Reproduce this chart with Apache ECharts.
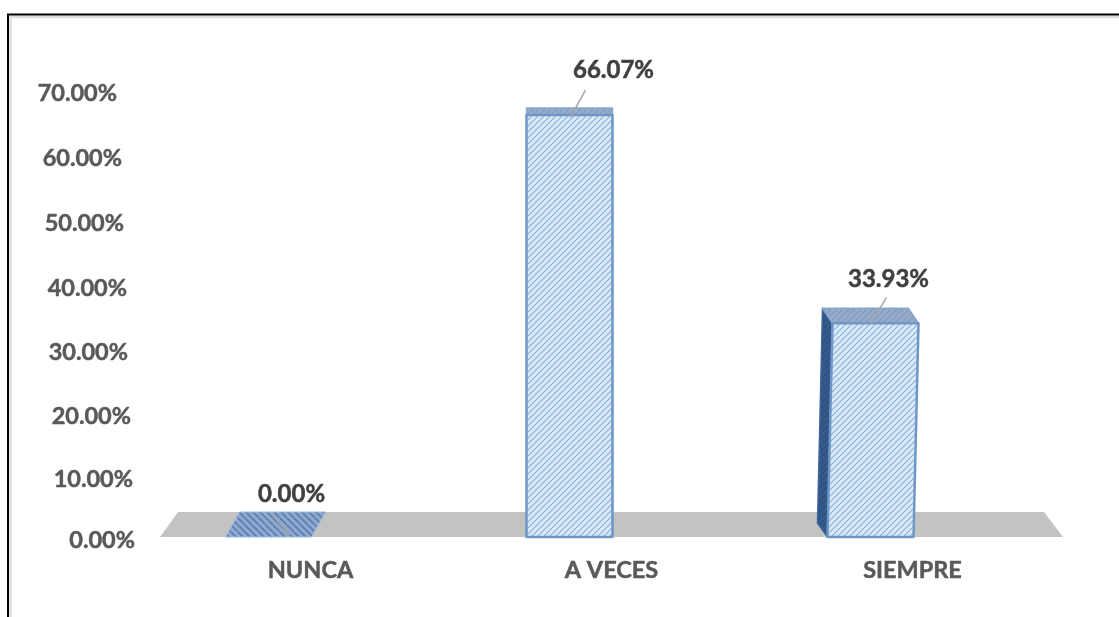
<!DOCTYPE html>
<html><head><meta charset="utf-8">
<style>html,body{margin:0;padding:0;background:#fff}#c{width:1119px;height:617px}</style>
<script src="https://cdn.jsdelivr.net/npm/echarts@6/dist/echarts.min.js"></script>
</head><body><div id="c"></div>
<script>
const categories = ['NUNCA', 'A VECES', 'SIEMPRE'];
const values = [0, 66.07, 33.93];
const valueLabels = ['0.00%', '66.07%', '33.93%'];
const tickValues = [0, 10, 20, 30, 40, 50, 60, 70];

function hatch(bg, line, dir, w, size) {
  const s = size || 6, c = document.createElement('canvas');
  c.width = s; c.height = s;
  const g = c.getContext('2d');
  g.fillStyle = bg; g.fillRect(0, 0, s, s);
  g.strokeStyle = line; g.lineWidth = w || 1.1;
  for (let i = -s; i <= 2 * s; i += s) {
    g.beginPath();
    if (dir > 0) { g.moveTo(i, s); g.lineTo(i + s, 0); }
    else { g.moveTo(i, 0); g.lineTo(i + s, s); }
    g.stroke();
  }
  return c;
}
const frontFill = { image: hatch('#d8e9fa', '#8fb1d6', 1, 1.2), repeat: 'repeat' };
const topFill = { image: hatch('#93abc9', '#7b96b9', 1, 1), repeat: 'repeat' };
const sideFill = { image: hatch('#34598a', '#274a76', 1, 1), repeat: 'repeat' };
const zeroFill = { image: hatch('#8fa9cf', '#5c7fb0', -1, 1.8, 7), repeat: 'repeat' };
const edge = '#6f97c6';

// perspective of the original's 3-D view: per-bar depth, label offsets, top displacement
const barShift = -42, barW = 86;
const depthDx = [14, 0, -10], depthDy = [25, 7, 15];
const topSkew = [0, 0, 5], topDrop = [0, 0, 3];
const labelDx = [23, 44, 18], labelDy = [-43, -45, -44];
const leader = [[2, -24, 21, -2], [16, -25, 1, 2], [16, -26, 0, 0]];
// axis labels follow the slanted back wall: shift per tick [right pad, top pad]
const tickPad = { 0: [0, 6], 10: [2, 12], 20: [4, 14], 30: [7, 14], 40: [8, 14], 50: [11, 12], 60: [13, 10], 70: [18, 6] };

const axisFont = { color: '#595959', fontFamily: 'Lato', fontWeight: 'bold', fontSize: 23.5, textBorderColor: '#595959', textBorderWidth: 0.5 };
const rich = {};
tickValues.forEach(v => {
  rich['t' + v] = Object.assign({}, axisFont, { padding: [tickPad[v][1], tickPad[v][0], 0, 0] });
});

const chart = echarts.init(document.getElementById('c'), null, { renderer: 'canvas' });

function poly(points, fill, stroke, lw) {
  return { type: 'polygon', shape: { points }, style: { fill, stroke, lineWidth: lw == null ? 1.5 : lw, lineJoin: 'round' } };
}
function renderBar(params, api) {
  const i = api.value(0);
  const p = api.coord([i, api.value(1)]);
  const base = api.coord([i, 0]);
  const x0 = p[0] + barShift - barW / 2, x1 = x0 + barW;
  const t = p[1] + topDrop[i], b = base[1];
  const dx = depthDx[i], dy = depthDy[i], sk = topSkew[i];
  const kids = [];
  if (dx < 0) {
    kids.push(poly([[x0 + sk, t], [x0 + sk + dx, t - dy], [x0 + dx, b - 14], [x0, b]], sideFill, '#3f6596'));
  }
  if (i === 0) {
    kids.push(poly([[x0, b], [x1, b], [x1 + dx, b - dy], [x0 + dx, b - dy]], zeroFill, '#9dbce0', 1));
  } else {
    kids.push(poly([[x0 + sk, t], [x1 + sk, t], [x1 + sk + dx, t - dy], [x0 + sk + dx, t - dy]], topFill, '#8aa7cb'));
    kids.push(poly([[x0 + sk, t], [x1 + sk, t], [x1, b], [x0, b]], frontFill, edge, 2.5));
  }
  const l = leader[i], cx = p[0] + barShift;
  kids.push({ type: 'line', shape: { x1: cx + l[0], y1: t + l[1], x2: cx + l[2], y2: t + l[3] }, style: { stroke: '#a6a6a6', lineWidth: 1.5 } });
  kids.push({ type: 'text', style: { text: valueLabels[i], x: cx + labelDx[i], y: t + labelDy[i], align: 'center', verticalAlign: 'middle', font: 'bold 24px Lato', fill: '#404040', stroke: '#404040', lineWidth: 0.5 } });
  return { type: 'group', children: kids };
}
function renderFloor(params, api) {
  if (params.dataIndex !== 0) return null;
  const z = api.coord([0, 0]);
  const bs = params.coordSys;
  const l = bs.x, r = bs.x + bs.width, b = z[1], t = b - 25;
  return poly([[l, b], [r, b], [r - 19, t], [l + 18, t]], '#c3c3c3', null, 0);
}

chart.setOption({
  animation: false,
  backgroundColor: '#fff',
  graphic: [
    { type: 'polyline', z: 0, shape: { points: [[10.5, 617], [10.5, 17], [1119, 17]] }, style: { stroke: '#dedede', lineWidth: 2.5, fill: null } },
    { type: 'polyline', z: 1, shape: { points: [[8, 617], [8, 14.5], [1119, 14.5]] }, style: { stroke: '#000', lineWidth: 2, fill: null } }
  ],
  grid: { left: 160, top: 90, width: 903, height: 447 },
  xAxis: {
    type: 'category', data: categories,
    axisLine: { show: false }, axisTick: { show: false },
    axisLabel: Object.assign({ margin: 21 }, axisFont)
  },
  yAxis: {
    type: 'value', min: 0, max: 70, interval: 10,
    axisLine: { show: false }, axisTick: { show: false }, splitLine: { show: false },
    axisLabel: Object.assign({ margin: 25, rich, formatter: v => '{t' + v + '|' + v.toFixed(2) + '%}' }, axisFont)
  },
  series: [
    { type: 'custom', z: 1, renderItem: renderFloor, data: categories.map((c, i) => [i, 0]), silent: true },
    { type: 'custom', z: 2, renderItem: renderBar, encode: { x: 0, y: 1 }, data: values.map((v, i) => [i, v]) }
  ]
});
</script></body></html>
